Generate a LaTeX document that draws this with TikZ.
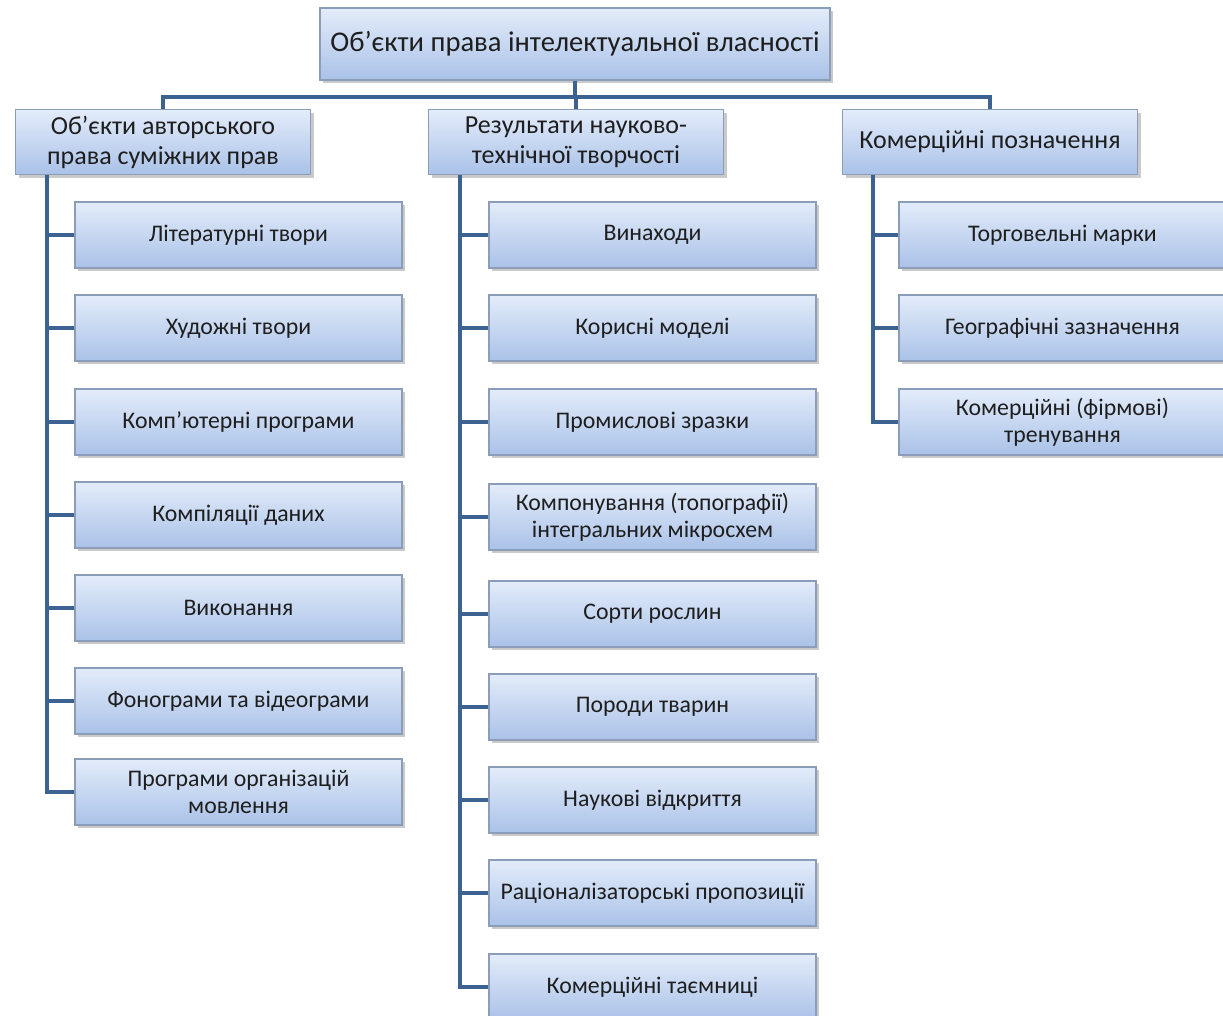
\documentclass[tikz,border=0pt]{standalone}
\usepackage{fontspec}
\setmainfont{Carlito}
\usetikzlibrary{shadows}
\definecolor{linec}{HTML}{3B6290}
\definecolor{boxtop}{HTML}{E3ECFA}
\definecolor{boxbot}{HTML}{AAC2E8}
\definecolor{boxdraw}{HTML}{8B9DB8}
\definecolor{txt}{HTML}{1E1E1E}
\tikzset{
  box/.style={draw=boxdraw, line width=0.6pt, shading=axis, top color=boxtop, bottom color=boxbot,
    drop shadow={shadow xshift=1.6pt, shadow yshift=-1.6pt, opacity=0.35, fill=black!60},
    align=center, inner sep=1pt, text=txt},
  topbox/.style={box, minimum width=255pt, minimum height=36pt, font=\fontsize{14.3}{16.5}\selectfont},
  midbox/.style={box, minimum width=147.5pt, minimum height=32.5pt, font=\fontsize{13}{15}\selectfont},
  leaf/.style={box, minimum width=163.5pt, minimum height=33pt, font=\fontsize{11.9}{13.6}\selectfont},
  conn/.style={draw=linec, line width=2.1pt}
}
\begin{document}
\begin{tikzpicture}[x=0.5pt,y=-0.5pt]
\useasboundingbox (0,0) rectangle (1223,1016);
\node[topbox] (top) at (575,44) {Об’єкти права інтелектуальної власності};
\node[midbox] (L1) at (163,142) {Об’єкти авторського\\права суміжних прав};
\node[midbox] (L2) at (576,142) {Результати науково-\\технічної творчості};
\node[midbox] (L3) at (990,142) {Комерційні позначення};
% left column
\node[leaf] (a1) at (238.5,235) {Літературні твори};
\node[leaf] (a2) at (238.5,328) {Художні твори};
\node[leaf] (a3) at (238.5,422) {Комп’ютерні програми};
\node[leaf] (a4) at (238.5,515) {Компіляції даних};
\node[leaf] (a5) at (238.5,608) {Виконання};
\node[leaf] (a6) at (238.5,701) {Фонограми та відеограми};
\node[leaf] (a7) at (238.5,792) {Програми організацій\\мовлення};
% middle column
\node[leaf] (b1) at (652.5,235) {Винаходи};
\node[leaf] (b2) at (652.5,328) {Корисні моделі};
\node[leaf] (b3) at (652.5,422) {Промислові зразки};
\node[leaf] (b4) at (652.5,517) {Компонування (топографії)\\інтегральних мікросхем};
\node[leaf] (b5) at (652.5,614) {Сорти рослин};
\node[leaf] (b6) at (652.5,707) {Породи тварин};
\node[leaf] (b7) at (652.5,800) {Наукові відкриття};
\node[leaf] (b8) at (652.5,893) {Раціоналізаторські пропозиції};
\node[leaf] (b9) at (652.5,987) {Комерційні таємниці};
% right column
\node[leaf] (c1) at (1062.5,235) {Торговельні марки};
\node[leaf] (c2) at (1062.5,328) {Географічні зазначення};
\node[leaf] (c3) at (1062.5,422) {Комерційні (фірмові)\\тренування};
% bus
\coordinate (bus) at (575,97);
\draw[conn] (top.south) -- (bus);
\draw[conn] (L1.north) -- (L1.north |- bus) -- (L3.north |- bus) -- (L3.north);
\draw[conn] (L2.north) -- (L2.north |- bus);
% trunks
\coordinate (t1) at (47,175);
\coordinate (t2) at (460,175);
\coordinate (t3) at (873,175);
\draw[conn] (t1) |- (a7.west);
\foreach \n in {a1,a2,a3,a4,a5,a6} \draw[conn] (\n.west) -- (\n.west -| t1);
\draw[conn] (t2) |- (b9.west);
\foreach \n in {b1,b2,b3,b4,b5,b6,b7,b8} \draw[conn] (\n.west) -- (\n.west -| t2);
\draw[conn] (t3) |- (c3.west);
\foreach \n in {c1,c2} \draw[conn] (\n.west) -- (\n.west -| t3);
\end{tikzpicture}
\end{document}
